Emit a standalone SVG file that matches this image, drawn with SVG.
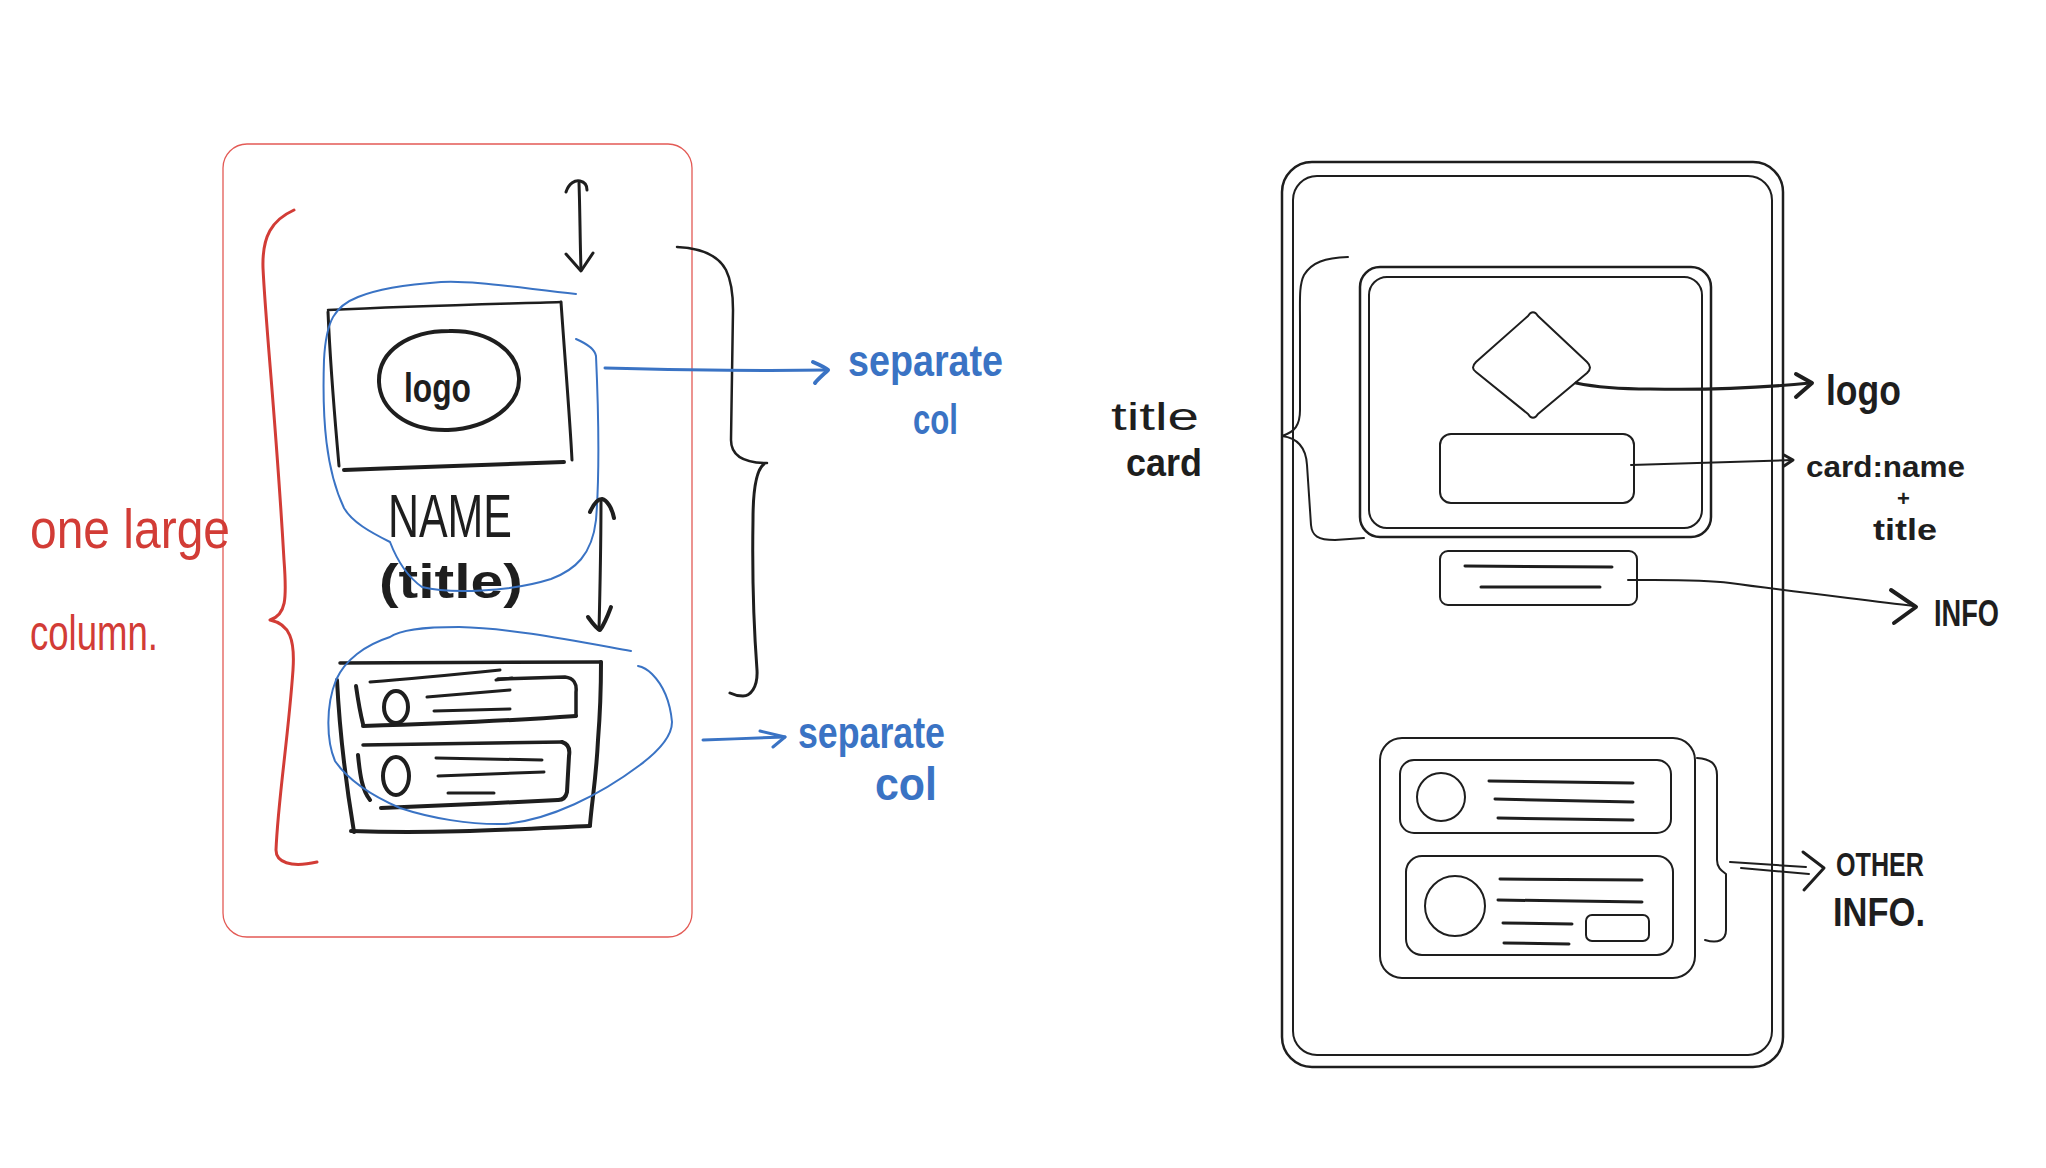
<svg xmlns="http://www.w3.org/2000/svg" width="2046" height="1168" viewBox="0 0 2046 1168">
  <style>
    .ink { fill: none; stroke: #1e1e1e; stroke-linecap: round; stroke-linejoin: round; }
    .blue { fill: none; stroke: #3a73c4; stroke-linecap: round; stroke-linejoin: round; }
    .red { fill: none; stroke: #d23c36; stroke-linecap: round; stroke-linejoin: round; }
    .w2 { stroke-width: 2; }
    .w3 { stroke-width: 3; }
    .w4 { stroke-width: 4; }
    .t-black { font-family: "Liberation Sans", Arial, sans-serif; fill: #1e1e1e; }
    .t-blue { font-family: "Liberation Sans", Arial, sans-serif; fill: #3a73c4; font-weight: bold; }
    .t-red { font-family: "Liberation Sans", Arial, sans-serif; fill: #d23c36; }
  </style>
  <rect width="2046" height="1168" fill="#ffffff"/>

  <!-- ===== Left sketch: one large column ===== -->
  <g id="column-frame">
    <rect x="223" y="144" width="469" height="793" rx="24" fill="none" stroke="#e35a55" stroke-width="1.3"/>
  </g>

  <g id="column-brace">
    <path class="red w3" d="M294,210 C272,220 262,236 263,268 C266,330 276,420 284,560 C287,600 286,615 270,620 C290,624 295,640 293,670 C288,740 278,800 276,850 C276,862 290,868 317,862"/>
  </g>

  <g id="column-label">
    <text class="t-red" x="30" y="548" font-size="56" textLength="200" lengthAdjust="spacingAndGlyphs">one large</text>
    <text class="t-red" x="30" y="650" font-size="50" textLength="128" lengthAdjust="spacingAndGlyphs">column.</text>
  </g>

  <g id="logo-block">
    <path class="ink" stroke-width="2.5" d="M328,310 C420,306 500,304 561,302"/>
    <path class="ink w3" d="M561,302 C565,360 570,420 572,460"/>
    <path class="ink w4" d="M344,470 C420,467 500,464 564,462"/>
    <path class="ink w3" d="M328,312 C331,380 336,430 339,466"/>
    <path class="ink w4" d="M449,331 C490,330 518,352 519,378 C520,405 490,428 448,430 C405,431 380,408 379,382 C378,350 410,331 449,331 Z"/>
    <text class="t-black" x="404" y="402" font-size="40" font-weight="bold" textLength="67" lengthAdjust="spacingAndGlyphs">logo</text>
  </g>

  <g id="name-label">
    <text class="t-black" x="388" y="537" font-size="62" textLength="124" lengthAdjust="spacingAndGlyphs">NAME</text>
    <text class="t-black" x="379" y="598" font-size="48" font-weight="bold" textLength="144" lengthAdjust="spacingAndGlyphs">(title)</text>
  </g>

  <g id="list-block">
    <path class="ink" stroke-width="3.5" d="M340,663 L601,662"/>
    <path class="ink w4" d="M601,662 C601,690 600,715 598,740 C596,780 592,800 590,825"/>
    <path class="ink w4" d="M590,826 C520,829 440,834 351,831"/>
    <path class="ink w4" d="M337,680 C340,740 347,790 354,832"/>
    <!-- first row -->
    <path class="ink w3" d="M370,682 C420,678 470,673 500,670"/>
    <path class="ink w3" d="M496,680 L512,678"/>
    <path class="ink" stroke-width="3.5" d="M498,679 L565,677 C574,678 577,684 576,692 L576,716"/>
    <path class="ink w4" d="M576,716 C520,720 430,724 363,726"/>
    <path class="ink w4" d="M356,686 C358,700 360,712 363,724"/>
    <ellipse class="ink w4" cx="396" cy="707" rx="12" ry="16"/>
    <path class="ink w3" d="M427,697 L510,690"/>
    <path class="ink w3" d="M434,711 L510,709"/>
    <!-- second row -->
    <path class="ink" stroke-width="3.5" d="M363,745 L562,742"/>
    <path class="ink w4" d="M562,742 C569,744 570,750 569,756 L567,792 C566,797 563,800 558,800"/>
    <path class="ink w4" d="M558,800 C500,803 430,806 381,808"/>
    <path class="ink w4" d="M358,755 C360,775 362,790 370,800"/>
    <ellipse class="ink w4" cx="396" cy="776" rx="13" ry="19"/>
    <path class="ink w3" d="M436,758 L542,760"/>
    <path class="ink w3" d="M438,776 L544,772"/>
    <path class="ink w3" d="M448,793 L494,793"/>
  </g>

  <g id="loop-title">
    <path class="blue w2" d="M576,294 C520,288 470,280 441,282 C400,285 375,290 358,297 C335,306 326,320 324,360 C322,420 326,470 344,508 C352,522 370,532 390,542 C395,555 405,575 422,587 C450,594 510,592 551,579 C575,570 592,555 596,520 C600,470 598,400 596,356 C595,350 590,345 576,339"/>
  </g>

  <g id="loop-list">
    <path class="blue w2" d="M631,651 C570,640 510,628 459,627 C420,627 400,630 390,637 C365,645 345,660 336,680 C326,705 326,740 335,761 C348,780 370,795 400,808 C430,818 470,825 505,824 C550,820 600,795 640,765 C660,750 672,735 672,722 C670,700 662,684 652,674 C648,670 643,667 638,666"/>
  </g>

  <g id="section-brace">
    <path class="ink" stroke-width="2.5" d="M677,247 C700,248 718,255 726,270 C732,282 733,295 733,310 L731,440 C731,456 745,463 767,463"/>
    <path class="ink w3" d="M764,464 C756,470 753,490 753,520 C752,580 754,630 757,670 C758,688 750,696 743,696 C738,696 734,695 730,693"/>
  </g>

  <g id="separate-label-1">
    <text class="t-blue" x="848" y="376" font-size="44" textLength="155" lengthAdjust="spacingAndGlyphs">separate</text>
    <text class="t-blue" x="913" y="434" font-size="42" textLength="45" lengthAdjust="spacingAndGlyphs">col</text>
  </g>

  <g id="separate-label-2">
    <text class="t-blue" x="798" y="748" font-size="44" textLength="147" lengthAdjust="spacingAndGlyphs">separate</text>
    <text class="t-blue" x="875" y="800" font-size="46" textLength="62" lengthAdjust="spacingAndGlyphs">col</text>
  </g>

  <!-- ===== Right sketch: phone wireframe ===== -->
  <g id="phone">
    <rect class="ink" stroke-width="2.5" x="1282" y="162" width="501" height="905" rx="30"/>
    <rect class="ink w2" x="1293" y="176" width="479" height="879" rx="24"/>
  </g>

  <g id="title-card">
    <rect class="ink" stroke-width="2.5" x="1360" y="267" width="351" height="270" rx="20"/>
    <rect class="ink w2" x="1369" y="277" width="333" height="251" rx="18"/>
  </g>

  <g id="logo-shape">
    <path class="ink w2" d="M1528,316 C1531,311 1535,311 1538,316 L1587,362 C1591,366 1591,369 1587,373 L1538,414 C1535,419 1531,419 1528,414 L1476,372 C1472,369 1472,366 1476,362 Z"/>
  </g>

  <g id="name-card">
    <rect class="ink w2" x="1440" y="434" width="194" height="69" rx="11"/>
  </g>

  <g id="info-card">
    <rect class="ink w2" x="1440" y="551" width="197" height="54" rx="8"/>
    <path class="ink w3" d="M1465,566 L1612,567"/>
    <path class="ink w3" d="M1481,587 L1600,587"/>
  </g>

  <g id="other-info">
    <rect class="ink w2" x="1380" y="738" width="315" height="240" rx="22"/>
    <rect class="ink w2" x="1400" y="760" width="271" height="73" rx="14"/>
    <circle class="ink w2" cx="1441" cy="797" r="24"/>
    <path class="ink w3" d="M1489,781 L1633,783"/>
    <path class="ink w3" d="M1495,799 L1633,802"/>
    <path class="ink w3" d="M1498,818 L1633,820"/>
    <rect class="ink w2" x="1406" y="856" width="267" height="99" rx="16"/>
    <ellipse class="ink w2" cx="1455" cy="906" rx="30" ry="30"/>
    <path class="ink w3" d="M1500,879 L1642,880"/>
    <path class="ink w3" d="M1498,900 L1642,902"/>
    <path class="ink w3" d="M1503,923 L1572,924"/>
    <path class="ink w3" d="M1504,943 L1569,944"/>
    <rect class="ink w2" x="1586" y="915" width="63" height="26" rx="6"/>
  </g>

  <g id="title-card-brace">
    <path class="ink w2" d="M1348,257 C1325,258 1312,262 1304,275 C1299,285 1300,300 1300,320 L1300,410 C1300,425 1295,432 1282,436 C1298,438 1306,448 1307,465 L1311,525 C1312,536 1318,540 1335,540 L1364,538"/>
  </g>

  <g id="other-info-brace">
    <path class="ink w2" d="M1697,758 C1710,759 1717,763 1717,775 L1717,860 C1717,868 1722,871 1726,874 L1726,930 C1726,940 1718,944 1705,940"/>
  </g>

  <g id="right-labels">
    <text class="t-black" x="1111" y="430" font-size="38" textLength="88" lengthAdjust="spacingAndGlyphs">title</text>
    <text class="t-black" x="1126" y="476" font-size="38" font-weight="bold" textLength="76" lengthAdjust="spacingAndGlyphs">card</text>
    <text class="t-black" x="1826" y="405" font-size="42" font-weight="bold" textLength="75" lengthAdjust="spacingAndGlyphs">logo</text>
    <text class="t-black" x="1806" y="477" font-size="30" font-weight="bold" textLength="159" lengthAdjust="spacingAndGlyphs">card:name</text>
    <text class="t-black" x="1897" y="506" font-size="22" font-weight="bold">+</text>
    <text class="t-black" x="1873" y="540" font-size="30" font-weight="bold" textLength="64" lengthAdjust="spacingAndGlyphs">title</text>
    <text class="t-black" x="1934" y="626" font-size="36" font-weight="bold" textLength="65" lengthAdjust="spacingAndGlyphs">INFO</text>
    <text class="t-black" x="1836" y="876" font-size="34" font-weight="bold" textLength="88" lengthAdjust="spacingAndGlyphs">OTHER</text>
    <text class="t-black" x="1833" y="926" font-size="40" font-weight="bold" textLength="92" lengthAdjust="spacingAndGlyphs">INFO.</text>
  </g>

  <!-- ===== Connectors ===== -->
  <g id="connectors">
    <!-- spacing markers -->
    <path class="ink w3" d="M579,183 C580,210 580,240 581,270"/>
    <path class="ink w3" d="M566,192 C569,183 575,180 580,181 C585,182 587,186 587,190"/>
    <path class="ink w3" d="M566,254 L581,271 L593,253"/>
    <path class="ink w3" d="M601,500 C601,540 600,590 599,630"/>
    <path class="ink w4" d="M590,512 C594,503 598,499 602,499 C607,500 612,508 614,518"/>
    <path class="ink w4" d="M588,617 C593,624 597,629 600,630 C604,625 608,615 611,607"/>
    <!-- blue callouts -->
    <path class="blue w3" d="M605,368 C680,370 760,371 828,370"/>
    <path class="blue w4" d="M813,362 C820,365 826,368 828,370 C824,374 818,379 815,383"/>
    <path class="blue w3" d="M703,740 C730,739 760,738 785,737"/>
    <path class="blue w3" d="M760,731 L785,737 L773,747"/>
    <!-- wireframe callouts -->
    <path class="ink w3" d="M1576,383 C1600,388 1620,389 1650,389 C1700,390 1760,388 1810,383"/>
    <path class="ink w4" d="M1796,374 L1812,383 L1796,397"/>
    <path class="ink w2" d="M1631,465 L1793,460"/>
    <path class="ink w3" d="M1784,455 L1793,460 L1784,466"/>
    <path class="ink w2" d="M1628,580 C1660,580 1700,579 1730,583 C1780,590 1850,598 1914,606"/>
    <path class="ink w4" d="M1891,590 L1916,607 L1894,623"/>
    <path class="ink w2" d="M1730,862 L1806,867"/>
    <path class="ink w2" d="M1741,868 L1809,874"/>
    <path class="ink w3" d="M1803,852 L1824,868 L1804,890"/>
  </g>
</svg>
